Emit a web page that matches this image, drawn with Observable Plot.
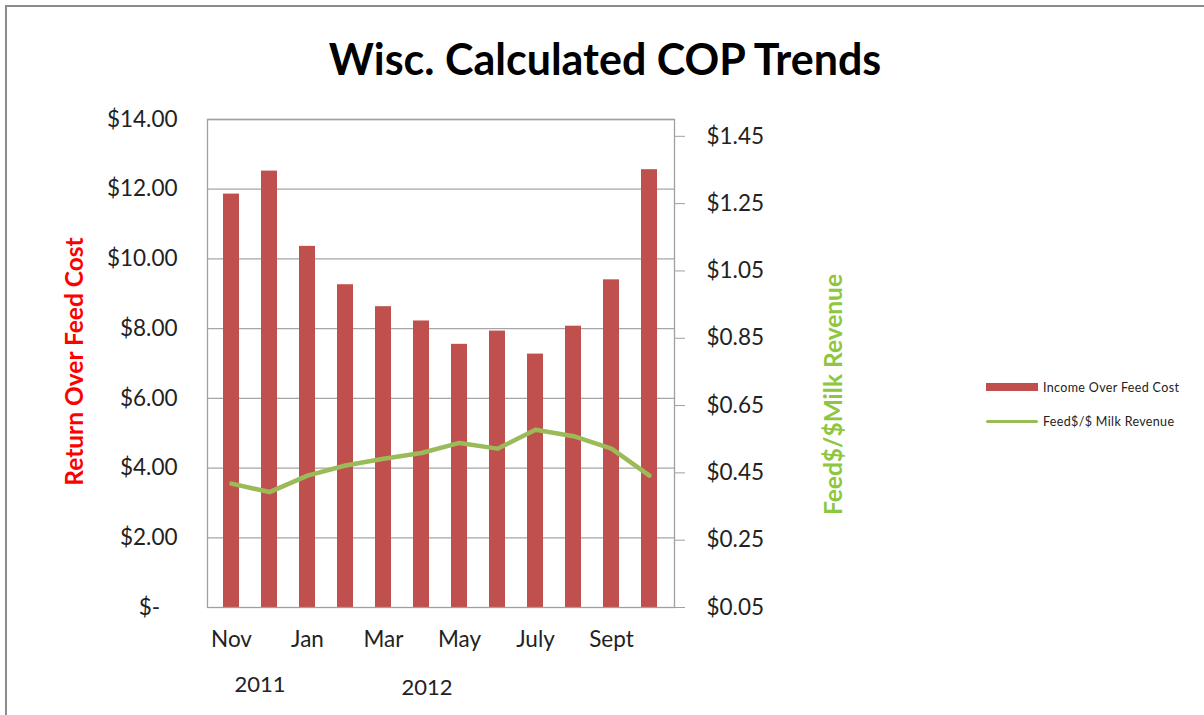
<!DOCTYPE html>
<html>
<head>
<meta charset="utf-8">
<script src="https://cdn.jsdelivr.net/npm/d3@7"></script>
<script src="https://cdn.jsdelivr.net/npm/@observablehq/plot@0.6"></script>
<style>
  html, body { margin: 0; padding: 0; background: #fff; }
  body { width: 1204px; height: 715px; position: relative; overflow: hidden; font-family: Lato, "Open Sans", sans-serif; }
  #chart { position: absolute; left: 0; top: 0; }
  .abs { position: absolute; white-space: nowrap; }
  #border { position: absolute; left: 5px; top: 5px; width: 1300px; height: 800px; border-top: 2px solid #8c8c8c; border-left: 2px solid #8c8c8c; }
  #title { left: 0; width: 1210px; top: 33px; text-align: center; font-size: 43px; font-weight: bold; color: #000; }
  .ylab { font-size: 24.5px; font-weight: bold; transform: rotate(-90deg); transform-origin: center center; text-align: center; }
  .year { font-size: 22px; color: #222; transform: translate(-50%, -50%); }
  .leg { font-size: 12.5px; letter-spacing: 0.35px; color: #222; transform: translateY(-50%); }
</style>
</head>
<body>
<div id="border"></div>
<div id="chart"></div>
<script>
// ---- data ----
const months = ["Nov", "Dec", "Jan", "Feb", "Mar", "Apr", "May", "Jun", "July", "Aug", "Sept", "Oct"];
const shownMonths = ["Nov", "Jan", "Mar", "May", "July", "Sept"];
const incomeOverFeedCost = [11.86, 12.52, 10.36, 9.26, 8.63, 8.22, 7.55, 7.93, 7.27, 8.07, 9.40, 12.56];
const feedPerMilkRevenue = [0.418, 0.393, 0.442, 0.472, 0.492, 0.509, 0.539, 0.522, 0.578, 0.559, 0.522, 0.442];
const leftTicks = [0, 2, 4, 6, 8, 10, 12, 14];
const leftTickLabels = ["$-\u00a0\u00a0\u00a0", "$2.00", "$4.00", "$6.00", "$8.00", "$10.00", "$12.00", "$14.00"];
const rightTicks = [0.05, 0.25, 0.45, 0.65, 0.85, 1.05, 1.25, 1.45];
const rightTickLabels = ["$0.05", "$0.25", "$0.45", "$0.65", "$0.85", "$1.05", "$1.25", "$1.45"];
const leftDomain = [0, 14];
const rightDomain = [0.05, 1.50];
const yearLabels = ["2011", "2012"];
const seriesNames = ["Income Over Feed Cost", "Feed$/$ Milk Revenue"];

// map right-axis values onto the left scale
const toLeft = v => leftDomain[0] + (v - rightDomain[0]) * (leftDomain[1] - leftDomain[0]) / (rightDomain[1] - rightDomain[0]);
const rightTicksMapped = rightTicks.map(toLeft);

const barData = months.map((m, i) => ({month: m, value: incomeOverFeedCost[i]}));
const lineData = months.map((m, i) => ({month: m, value: toLeft(feedPerMilkRevenue[i])}));

const chart = Plot.plot({
  width: 1204,
  height: 715,
  marginLeft: 207,
  marginRight: 530,
  marginTop: 119,
  marginBottom: 108,
  style: {fontFamily: "Lato, 'Open Sans', sans-serif", background: "transparent"},
  x: {type: "band", domain: months, paddingInner: 0.57, paddingOuter: 0.285, label: null},
  y: {domain: leftDomain, label: null},
  marks: [
    Plot.ruleY(leftTicks.slice(1), {stroke: "#a6a6a6", strokeWidth: 1.3}),
    Plot.barY(barData, {x: "month", y: "value", fill: "#c0504d"}),
    Plot.line(lineData, {x: "month", y: "value", stroke: "#9bbb59", strokeWidth: 4.5, strokeLinejoin: "round", strokeLinecap: "round"}),
    Plot.frame({stroke: "#a0a0a0", strokeWidth: 1.3}),
    Plot.axisY(leftTicks, {anchor: "left", tickSize: 0, tickPadding: 30, fontSize: 22.5, fill: "#222",
      tickFormat: d => leftTickLabels[leftTicks.indexOf(d)]}),
    Plot.axisY(rightTicksMapped, {anchor: "right", tickSize: 10, tickPadding: 22, fontSize: 22.5, fill: "#222", stroke: "#a0a0a0",
      tickFormat: d => rightTickLabels[rightTicksMapped.indexOf(d)]}),
    Plot.axisX(shownMonths, {anchor: "bottom", tickSize: 0, tickPadding: 24, fontSize: 22.5, fill: "#222"})
  ]
});
document.getElementById("chart").appendChild(chart);

// overlays: title, axis titles, year labels, legend
function addDiv(cls, text, styles) {
  const d = document.createElement("div");
  d.className = "abs " + cls;
  d.textContent = text;
  Object.assign(d.style, styles);
  document.body.appendChild(d);
  return d;
}
addDiv("", "Wisc. Calculated COP Trends", {}).id = "title";
addDiv("ylab", "Return Over Feed Cost", {left: (73 - 150) + "px", top: (363 - 16) + "px", width: "300px", color: "#ff0000"});
addDiv("ylab", "Feed$/$Milk Revenue", {left: (832 - 150) + "px", top: (396 - 16) + "px", width: "300px", color: "#8dc63f"});
addDiv("year", yearLabels[0], {left: "260px", top: "683px"});
addDiv("year", yearLabels[1], {left: "427px", top: "686px"});

// legend
const sw1 = document.createElement("div");
sw1.className = "abs";
Object.assign(sw1.style, {left: "986px", top: "383px", width: "52px", height: "8px", background: "#c0504d"});
document.body.appendChild(sw1);
const sw2 = document.createElement("div");
sw2.className = "abs";
Object.assign(sw2.style, {left: "986px", top: "419.5px", width: "52px", height: "3.5px", background: "#9bbb59", borderRadius: "2px"});
document.body.appendChild(sw2);
addDiv("leg", seriesNames[0], {left: "1043px", top: "387px"});
addDiv("leg", seriesNames[1], {left: "1043px", top: "421px"});
</script>
</body>
</html>
